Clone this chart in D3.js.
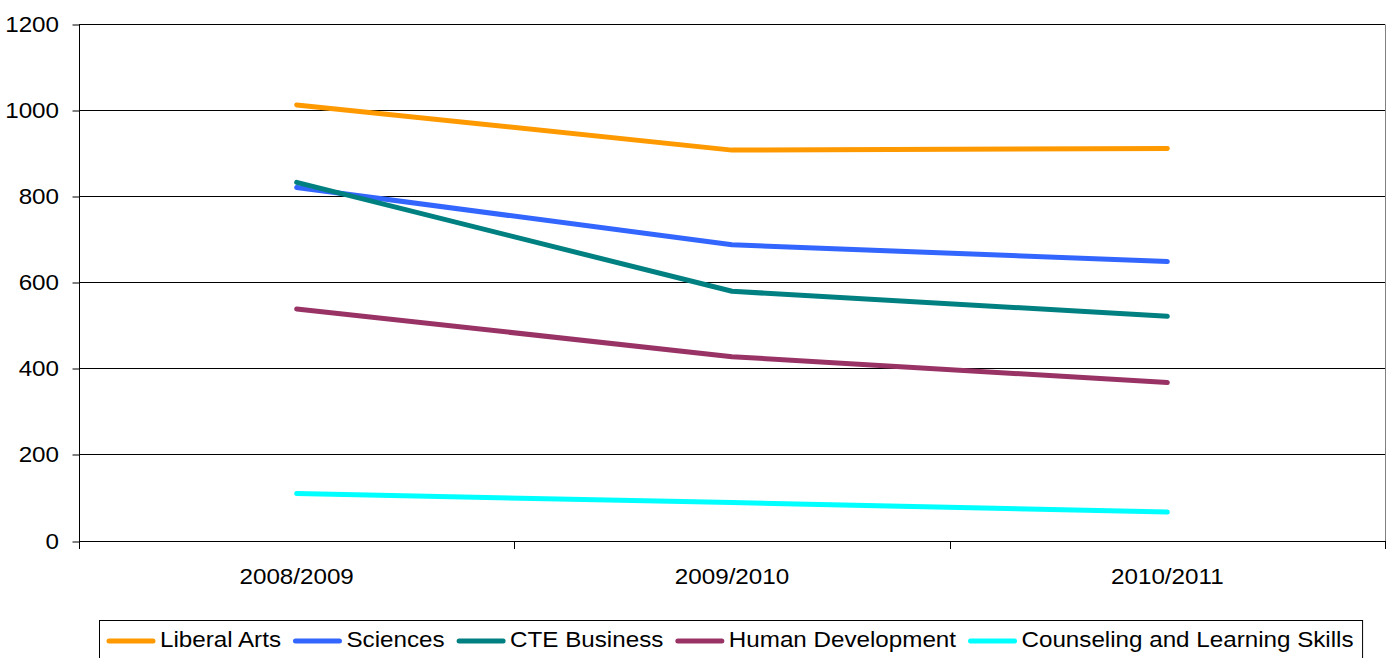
<!DOCTYPE html>
<html><head><meta charset="utf-8">
<script src="https://cdn.jsdelivr.net/npm/d3@7"></script>
<style>body{margin:0;background:#fff}svg{display:block;font-family:"Liberation Sans",Arial,sans-serif}</style>
</head><body>
<script>
const categories = ["2008/2009","2009/2010","2010/2011"];
const seriesNames = ["Liberal Arts","Sciences","CTE Business","Human Development","Counseling and Learning Skills"];
const liberalArts = [1012, 907, 911];
const sciences = [820, 687, 648];
const cteBusiness = [832, 579, 521];
const humanDevelopment = [538, 427, 367];
const counseling = [109, 88, 66];
const yTicks = [0,200,400,600,800,1000,1200];
const colors = ["#FF9900","#3366FF","#008080","#993366","#00FFFF"];
const seriesValues = [liberalArts, sciences, cteBusiness, humanDevelopment, counseling];

const W = 1389, H = 658;
const m = {left: 79, right: 1385, top: 24, bottom: 540.5};
const svg = d3.select("body").append("svg").attr("width", W).attr("height", H);

const x = d3.scaleBand().domain(categories).range([m.left, m.right]).padding(0);
const y = d3.scaleLinear().domain([0,1200]).range([m.bottom, m.top]);
const FS = 22, SX = 1.1, LSX = 1.1, GAP = 12.5;

// gridlines
svg.append("g").selectAll("line").data(yTicks.filter(d=>d>0)).join("line")
  .attr("x1", m.left).attr("x2", m.right)
  .attr("y1", d=>Math.round(y(d))+0.5).attr("y2", d=>Math.round(y(d))+0.5)
  .attr("stroke", "#000").attr("stroke-width", 1);
// right border
svg.append("line").attr("x1", m.right+0.5).attr("x2", m.right+0.5)
  .attr("y1", Math.round(y(1200))+0.5).attr("y2", Math.round(y(0))+0.5)
  .attr("stroke", "#808080");

// y axis
const ya = svg.append("g").attr("transform", `translate(${m.left+0.5},0)`)
  .call(d3.axisLeft(y).tickValues(yTicks).tickSize(7).tickPadding(0).tickFormat(d3.format("d")));
ya.select(".domain").remove();
ya.selectAll(".tick line").attr("stroke","#000").attr("transform", d=>`translate(0,${Math.round(y(d))+0.5-y(d)})`);
ya.selectAll(".tick text").remove();
svg.append("g").selectAll("text").data(yTicks).join("text")
  .attr("transform", d=>`translate(59,${y(d)+8}) scale(${SX},1)`)
  .attr("text-anchor","end").attr("font-size", FS).attr("fill","#000").text(d=>d);
svg.append("line").attr("x1", m.left+0.5).attr("x2", m.left+0.5)
  .attr("y1", Math.round(y(1200))).attr("y2", Math.round(y(0))+8).attr("stroke","#000");

// x axis
const xa = svg.append("g").attr("transform", `translate(0,${Math.round(y(0))+0.5})`)
  .call(d3.axisBottom(x).tickSize(0).tickFormat(""));
xa.select(".domain").attr("stroke","#000").attr("d", `M${m.left},0H${m.right}`);
const bounds = categories.map(c=>x(c)).concat([m.right]);
svg.append("g").selectAll("line").data(bounds).join("line")
  .attr("x1", d=>Math.round(d)+0.5).attr("x2", d=>Math.round(d)+0.5)
  .attr("y1", Math.round(y(0))).attr("y2", Math.round(y(0))+8).attr("stroke","#000");
svg.append("g").selectAll("text").data(categories).join("text")
  .attr("transform", d=>`translate(${x(d)+x.bandwidth()/2},584) scale(${SX},1)`)
  .attr("text-anchor","middle").attr("font-size", FS).attr("fill","#000").text(d=>d);

// lines
const line = d3.line().x((d,i)=>x(categories[i])+x.bandwidth()/2).y(d=>y(d));
svg.append("g").selectAll("path").data(seriesValues).join("path")
  .attr("d", line).attr("fill","none")
  .attr("stroke", (d,i)=>colors[i]).attr("stroke-width", 5)
  .attr("stroke-linecap","round").attr("stroke-linejoin","round");

// legend
const lg = svg.append("g");
const box = lg.append("rect").attr("x", 99.5).attr("y", 620.5).attr("height", 60)
  .attr("fill","#fff").attr("stroke","#000");
let cx = 107;
seriesNames.forEach((n,i)=>{
  lg.append("line").attr("x1", cx+2).attr("x2", cx+46).attr("y1", 641).attr("y2", 641)
    .attr("stroke", colors[i]).attr("stroke-width", 5).attr("stroke-linecap","round");
  const t = lg.append("text").attr("transform", `translate(${cx+53},647) scale(${LSX},1)`)
    .attr("font-size", FS).attr("fill","#000").text(n);
  const w = t.node().getComputedTextLength()*LSX;
  cx = cx + 53 + w + GAP;
});
box.attr("width", cx - GAP + 9 - 99.5);
</script>
</body></html>
